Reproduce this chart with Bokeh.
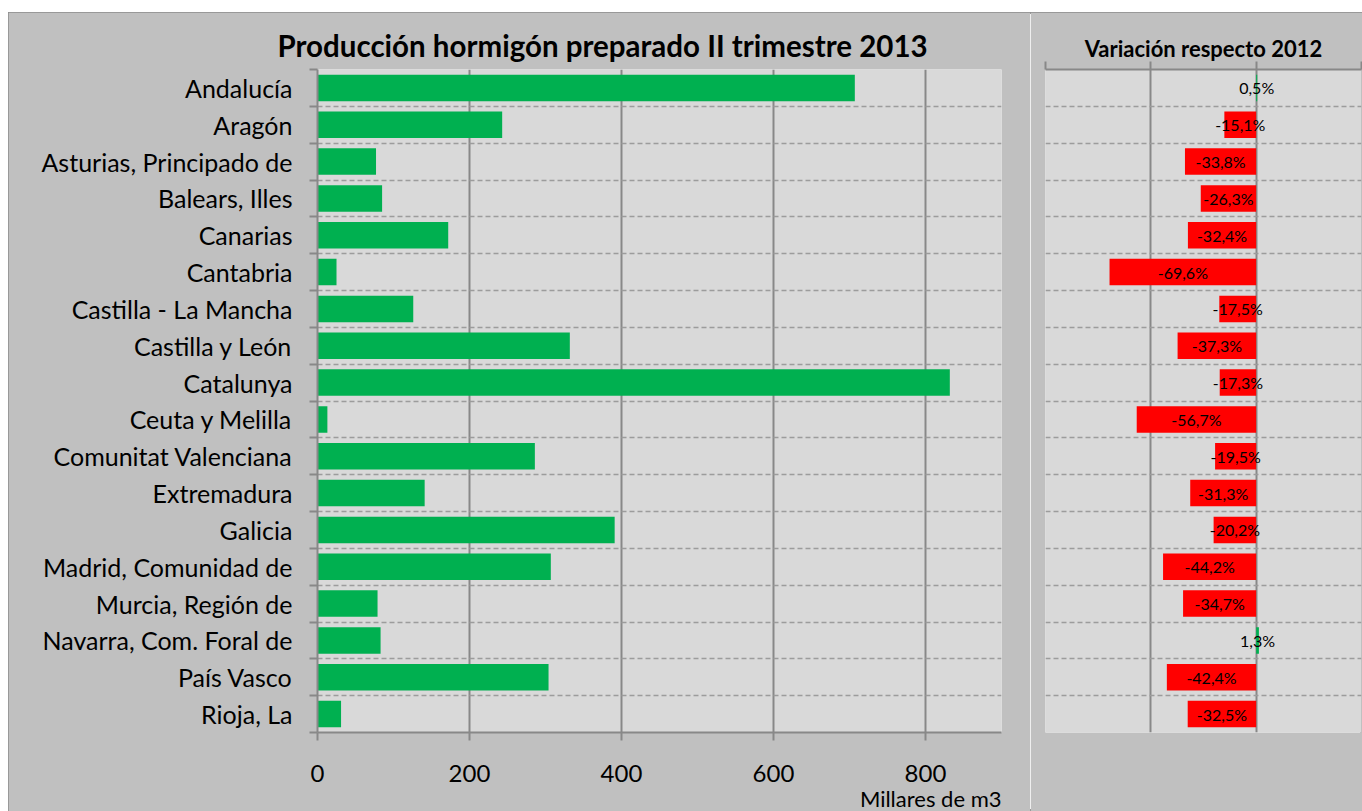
from bokeh.plotting import figure
from bokeh.models import (Range1d, FixedTicker, ColumnDataSource, Spacer,
                          Title, CustomLabelingPolicy)
from bokeh.layouts import row, column
from bokeh.embed import file_html
from bokeh.resources import INLINE
from bokeh.core.properties import value

# ---------------- data ----------------
regions = [
    "Andalucía", "Aragón", "Asturias, Principado de", "Balears, Illes",
    "Canarias", "Cantabria", "Castilla - La Mancha", "Castilla y León",
    "Catalunya", "Ceuta y Melilla", "Comunitat Valenciana", "Extremadura",
    "Galicia", "Madrid, Comunidad de", "Murcia, Región de",
    "Navarra, Com. Foral de", "País Vasco", "Rioja, La",
]
production = [707, 243, 77, 85, 172, 25, 126, 332, 832, 13, 286, 141,
              391, 307, 79, 83, 304, 31]
variation = [0.5, -15.1, -33.8, -26.3, -32.4, -69.6, -17.5, -37.3, -17.3,
             -56.7, -19.5, -31.3, -20.2, -44.2, -34.7, 1.3, -42.4, -32.5]
prod_ticks = [0, 200, 400, 600, 800]
var_ticks = [-100, -50, 0, 50]

title_left = "Producción hormigón preparado II trimestre 2013"
title_right = "Variación respecto 2012"
x_label = "Millares de m3"

# ---------------- styling ----------------
FONT = "Lato"
GRID = "#888888"
DASH = "#9c9c9c"
OUTER = "#c0c0c0"
INNER = "#d9d9d9"
GREEN = "#00b050"
RED = "#ff0000"

n = len(regions)
centers = [i + 0.5 for i in range(n)]
bounds = list(range(n + 1))

src = ColumnDataSource(dict(
    y=centers,
    prod=production,
    var=variation,
    var_mid=[v / 2 for v in variation],
    var_col=[GREEN if v >= 0 else RED for v in variation],
    var_lab=[("%.1f" % v).replace(".", ",") + "%" for v in variation],
))

outline = {"outline": "2px solid #8c8c8c", "outline-offset": "-2px"}

# ---------------- left panel ----------------
left = figure(width=1022, height=799, x_range=Range1d(0, 900),
              y_range=Range1d(n, 0), output_backend="svg",
              toolbar_location=None, min_border_left=309,
              min_border_right=29, min_border_top=57, min_border_bottom=77,
              background_fill_color=INNER, border_fill_color=OUTER,
              outline_line_color=None)
left.styles = outline

left.title.text = title_left
left.title.text_font = FONT
left.title.text_font_size = "29.5px"
left.title.text_font_style = "bold"
left.title.text_color = "black"
left.title.align = "left"
left.title.offset = -40
left.title.standoff = 13

left.hbar(y="y", right="prod", left=0, height=0.72, color=GREEN,
          line_color=None, source=src)

xa = left.xaxis[0]
xa.ticker = FixedTicker(ticks=prod_ticks)
xa.axis_line_color = GRID
xa.axis_line_width = 2
xa.major_tick_out = 8
xa.major_tick_in = 0
xa.major_tick_line_color = GRID
xa.major_tick_line_width = 2
xa.minor_tick_out = 0
xa.minor_tick_in = 0
xa.major_label_text_font = FONT
xa.major_label_text_font_size = "24px"
xa.major_label_text_color = "black"
xa.major_label_standoff = 24

unit_title = Title(text=x_label, align="right", text_font=FONT,
                   text_font_size="22px", text_font_style="normal",
                   text_color="black", standoff=-3)
left.add_layout(unit_title, "below")

ya = left.yaxis[0]
ya.ticker = FixedTicker(ticks=centers, minor_ticks=bounds)
ya.major_label_overrides = {c: r for c, r in zip(centers, regions)}
ya.major_tick_out = 0
ya.major_tick_in = 0
ya.minor_tick_out = 8
ya.minor_tick_in = 0
ya.minor_tick_line_color = GRID
ya.minor_tick_line_width = 2
ya.axis_line_color = GRID
ya.axis_line_width = 2
ya.major_label_text_font = FONT
ya.major_label_text_font_size = "25px"
ya.major_label_text_color = "black"
ya.major_label_standoff = 17

left.xgrid.ticker = FixedTicker(ticks=prod_ticks)
left.xgrid.grid_line_color = GRID
left.xgrid.grid_line_width = 2
left.ygrid.ticker = FixedTicker(ticks=bounds)
left.ygrid.grid_line_color = DASH
left.ygrid.grid_line_width = 1.5
left.ygrid.grid_line_dash = "5 3"

# ---------------- right panel ----------------
right = figure(width=332, height=799, x_range=Range1d(-100, 50),
               y_range=Range1d(n, 0), output_backend="svg",
               toolbar_location=None, x_axis_location="above",
               y_axis_location=None, min_border_left=15,
               min_border_right=1, min_border_top=55, min_border_bottom=79,
               background_fill_color=INNER, border_fill_color=OUTER,
               outline_line_color=None)

right.title.text = title_right
right.title.text_font = FONT
right.title.text_font_size = "22px"
right.title.text_font_style = "bold"
right.title.text_color = "black"
right.title.align = "center"
right.title.standoff = 0

right.hbar(y="y", right="var", left=0, height=0.72, color="var_col",
           line_color=None, source=src)
right.text(x="var_mid", y="y", text="var_lab", text_align="center",
           text_baseline="middle", text_font=value(FONT),
           text_font_size="16px", text_color="black", source=src)

xa2 = right.xaxis[0]
xa2.ticker = FixedTicker(ticks=var_ticks)
xa2.major_label_policy = CustomLabelingPolicy(
    code="for (const i of [...indices]) { indices.unset(i) }\nreturn indices")
xa2.major_label_text_font_size = "0px"
xa2.major_label_standoff = 0
xa2.axis_line_color = GRID
xa2.axis_line_width = 2
xa2.major_tick_out = 8
xa2.major_tick_in = 0
xa2.major_tick_line_color = GRID
xa2.major_tick_line_width = 2
xa2.minor_tick_out = 0
xa2.minor_tick_in = 0

right.xgrid.ticker = FixedTicker(ticks=var_ticks)
right.xgrid.grid_line_color = GRID
right.xgrid.grid_line_width = 2
right.ygrid.ticker = FixedTicker(ticks=bounds)
right.ygrid.grid_line_color = DASH
right.ygrid.grid_line_width = 1.5
right.ygrid.grid_line_dash = "5 3"

panels = row(left, right)
panels.styles = outline
layout = column(Spacer(width=1362, height=12),
                row(Spacer(width=8, height=799), panels))

open("out.html", "w").write(file_html(layout, INLINE))
